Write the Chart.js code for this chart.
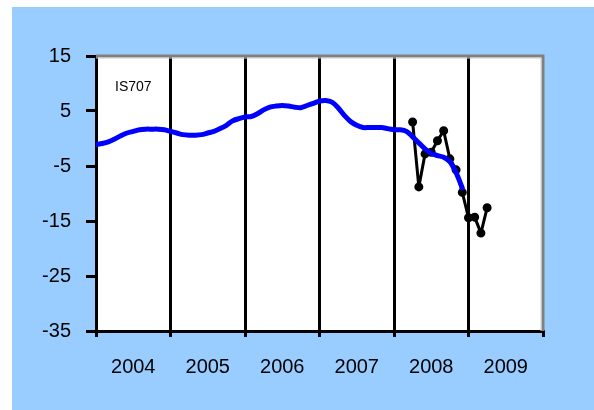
<!DOCTYPE html>
<html>
<head>
<meta charset="utf-8">
<script src="https://cdn.jsdelivr.net/npm/chart.js@4"></script>
<style>
  html, body { margin: 0; padding: 0; background: #ffffff; }
  #frame { position: absolute; left: 12px; top: 7px; width: 582px; height: 403px; background: #99ccff; }
  #wrap { position: absolute; left: 0; top: 0; width: 594px; height: 410px; }
</style>
</head>
<body>
<div id="frame"></div>
<div id="wrap"><canvas id="chart"></canvas></div>
<script>
// year labels, one per 12 months, starting Jan 2004
const years = ['2004', '2005', '2006', '2007', '2008', '2009'];
const yTicks = [15, 5, -5, -15, -25, -35];

// blue series: monthly, Jan 2004 .. Dec 2008
const blueStart = 0;
const blueValues = [
  -1.1, -0.9, -0.6, -0.1, 0.5, 1.0, 1.3, 1.6, 1.7, 1.7, 1.7, 1.6,
  1.3, 1.0, 0.7, 0.6, 0.6, 0.7, 1.0, 1.3, 1.8, 2.4, 3.2, 3.6,
  3.9, 4.0, 4.5, 5.2, 5.7, 5.9, 6.0, 5.9, 5.7, 5.6, 6.0, 6.4,
  6.8, 6.9, 6.6, 5.6, 4.2, 3.1, 2.4, 2.0, 2.0, 2.0, 2.0, 1.8,
  1.6, 1.6, 1.3, 0.3, -0.8, -1.9, -2.7, -3.1, -3.4, -4.2, -6.2, -9.0
];

// black series: monthly, Apr 2008 .. Apr 2009
const blackStart = 51;
const blackValues = [3.0, -8.8, -2.8, -2.5, -0.4, 1.4, -3.7, -5.7, -9.8, -14.4, -14.3, -17.2, -12.6];

const toPoints = (start, vals) => vals.map((v, i) => ({ x: start + i, y: v }));

const frame = {
  id: 'frame',
  beforeDraw(chart) {
    const { ctx, chartArea: a } = chart;
    ctx.save();
    ctx.fillStyle = '#ffffff';
    ctx.fillRect(a.left, a.top, a.right - a.left, a.bottom - a.top);
    ctx.restore();
  },
  afterDatasetsDraw(chart) {
    const { ctx, chartArea: a } = chart;
    ctx.save();
    ctx.strokeStyle = '#808080';
    ctx.lineWidth = 3;
    ctx.beginPath();
    ctx.moveTo(a.left, a.top);
    ctx.lineTo(a.right, a.top);
    ctx.lineTo(a.right, a.bottom);
    ctx.stroke();
    ctx.strokeStyle = '#c8c8c8';
    ctx.lineWidth = 1;
    ctx.beginPath();
    ctx.moveTo(a.left, a.top + 2);
    ctx.lineTo(a.right - 2, a.top + 2);
    ctx.lineTo(a.right - 2, a.bottom);
    ctx.stroke();
    ctx.fillStyle = '#000000';
    ctx.font = '14px "Liberation Sans", Arial, sans-serif';
    ctx.textBaseline = 'alphabetic';
    ctx.fillText('IS707', a.left + 19, a.top + 35);
    ctx.restore();
  }
};

new Chart(document.getElementById('chart'), {
  type: 'line',
  data: {
    datasets: [
      {
        data: toPoints(blueStart, blueValues),
        borderColor: '#0000ff',
        borderWidth: 5,
        borderJoinStyle: 'round',
        borderCapStyle: 'round',
        pointRadius: 0,
        tension: 0.3,
        fill: false
      },
      {
        data: toPoints(blackStart, blackValues),
        borderColor: '#000000',
        backgroundColor: '#000000',
        borderWidth: 3,
        borderJoinStyle: 'round',
        pointRadius: 3,
        pointBackgroundColor: '#000000',
        tension: 0,
        fill: false
      }
    ]
  },
  options: {
    responsive: true,
    maintainAspectRatio: false,
    animation: false,
    layout: { padding: { left: 0, top: 56, right: 51, bottom: 0 } },
    plugins: { legend: { display: false }, tooltip: { enabled: false } },
    scales: {
      x: {
        type: 'linear',
        min: 0,
        max: years.length * 12,
        afterFit: s => { s.height = 79; },
        afterBuildTicks: s => {
          const t = [];
          for (let v = 0; v <= years.length * 12; v += 6) t.push({ value: v });
          s.ticks = t;
        },
        border: { color: '#000000', width: 3 },
        grid: {
          lineWidth: 3,
          tickLength: 6,
          color: c => (c.tick && c.tick.value % 12 === 0 && c.tick.value > 0 && c.tick.value < years.length * 12) ? '#000000' : 'rgba(0,0,0,0)',
          tickColor: c => (c.tick && c.tick.value % 12 === 0) ? '#000000' : 'rgba(0,0,0,0)'
        },
        ticks: {
          autoSkip: false,
          maxRotation: 0,
          padding: 18,
          color: '#000000',
          font: { family: '"Liberation Sans", Arial, sans-serif', size: 20 },
          callback: v => (v % 12 === 6 ? years[(v - 6) / 12] : '')
        }
      },
      y: {
        min: -35,
        max: 15,
        afterFit: s => { s.width = 96; },
        afterBuildTicks: s => { s.ticks = yTicks.map(v => ({ value: v })); },
        border: { color: '#000000', width: 3 },
        grid: { drawOnChartArea: false, drawTicks: true, tickLength: 10, lineWidth: 3, color: '#000000' },
        ticks: {
          padding: 15,
          color: '#000000',
          font: { family: '"Liberation Sans", Arial, sans-serif', size: 20 }
        }
      }
    }
  },
  plugins: [frame]
});
</script>
</body>
</html>
